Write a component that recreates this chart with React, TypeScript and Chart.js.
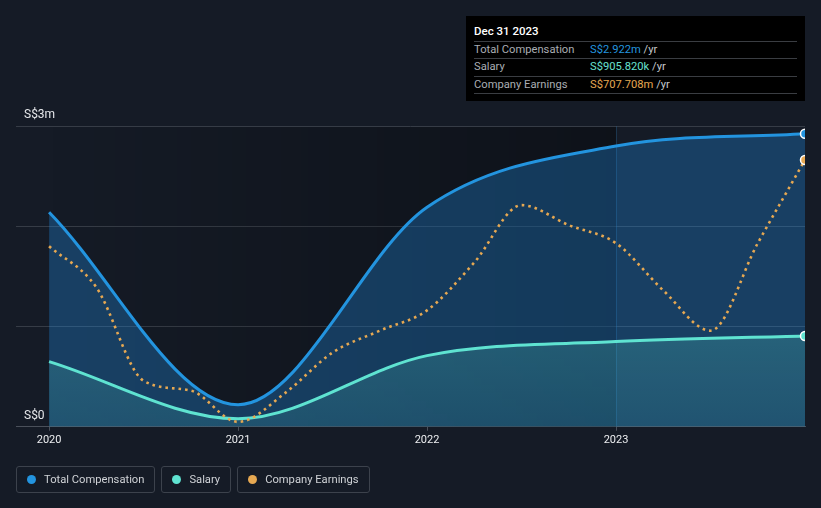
import React, { useEffect, useRef } from 'react';
import { Chart, registerables } from 'chart.js';
Chart.register(...registerables);

// ---- data ----
const yearTicks = [2020, 2021, 2022, 2023];
const yTickValues = [0, 3];
const yTickLabels = ['S$0', 'S$3m'];
const highlightStart = 2023;
const compX = [2020, 2021, 2022, 2023, 2024];
const totalComp = [2.14, 0.22, 2.19, 2.8, 2.922];
const salary = [0.65, 0.08, 0.71, 0.85, 0.906];
const earningsX = [
  2020, 2020.25, 2020.5, 2020.75, 2021, 2021.25, 2021.5, 2021.75, 2022,
  2022.25, 2022.5, 2022.75, 2023, 2023.25, 2023.5, 2023.75, 2024,
];
const earnings = [479, 370, 122, 96, 13, 90, 197, 255, 309, 436, 588, 535, 487, 362, 255, 487, 708];
const seriesNames = ['Total Compensation', 'Salary', 'Company Earnings'];
const seriesColors = ['#2394df', '#5fe3d1', '#e6a852'];
const tooltipTitle = 'Dec 31 2023';
const tooltipValues = ['S$2.922m', 'S$905.820k', 'S$707.708m'];

const BG = '#151b26';
const FONT = 'Roboto, sans-serif';

function lastOnly(n: number, r: number) {
  return Array.from({ length: n }, (_, i) => (i === n - 1 ? r : 0));
}

const decorPlugin = {
  id: 'decor',
  beforeDatasetsDraw(chart: any) {
    const { ctx, chartArea: ca, scales } = chart;
    const x0 = scales.x.getPixelForValue(2020);
    const x1 = scales.x.getPixelForValue(highlightStart);
    const g = ctx.createLinearGradient(x0, 0, x1, 0);
    g.addColorStop(0, 'rgba(0,0,0,0)');
    g.addColorStop(1, 'rgba(0,0,0,0.32)');
    ctx.save();
    ctx.fillStyle = g;
    ctx.fillRect(x0, ca.top + 1, x1 - x0, ca.bottom - ca.top - 1);
    ctx.strokeStyle = 'rgba(40,95,140,0.4)';
    ctx.lineWidth = 1;
    ctx.beginPath();
    ctx.moveTo(Math.round(x1) + 0.5, ca.top);
    ctx.lineTo(Math.round(x1) + 0.5, ca.bottom);
    ctx.stroke();
    ctx.restore();
  },
  afterDraw(chart: any) {
    const { ctx, chartArea: ca, scales } = chart;
    ctx.save();
    ctx.font = '12px ' + FONT;
    ctx.fillStyle = '#e6e8eb';
    ctx.textBaseline = 'bottom';
    ctx.textAlign = 'left';
    yTickValues.forEach((v, i) => {
      const y = scales.y.getPixelForValue(v);
      ctx.fillText(yTickLabels[i], ca.left + 8, y - 5);
    });
    ctx.restore();
  },
};

export default function App() {
  const ref = useRef<HTMLCanvasElement | null>(null);
  useEffect(() => {
    document.body.style.margin = '0';
    document.body.style.background = BG;
    const canvas = ref.current!;
    const n = compX.length;
    const chart = new Chart(canvas, {
      type: 'line',
      data: {
        datasets: [
          {
            label: seriesNames[0],
            data: compX.map((x, i) => ({ x, y: totalComp[i] })),
            borderColor: seriesColors[0],
            borderWidth: 3,
            fill: 'origin',
            backgroundColor: 'rgba(33,150,243,0.3)',
            cubicInterpolationMode: 'monotone',
            pointRadius: lastOnly(n, 4.5),
            pointBackgroundColor: seriesColors[0],
            pointBorderColor: '#ffffff',
            pointBorderWidth: 1.5,
            order: 3,
          },
          {
            label: seriesNames[1],
            data: compX.map((x, i) => ({ x, y: salary[i] })),
            borderColor: seriesColors[1],
            borderWidth: 3,
            fill: 'origin',
            backgroundColor: (c: any) => {
              const ca = c.chart.chartArea;
              if (!ca) return 'rgba(95,227,209,0.2)';
              const g = c.chart.ctx.createLinearGradient(0, ca.top + ca.height * 0.65, 0, ca.bottom);
              g.addColorStop(0, 'rgba(95,227,209,0.22)');
              g.addColorStop(1, 'rgba(95,227,209,0.12)');
              return g;
            },
            cubicInterpolationMode: 'monotone',
            pointRadius: lastOnly(n, 4.5),
            pointBackgroundColor: seriesColors[1],
            pointBorderColor: '#ffffff',
            pointBorderWidth: 1.5,
            order: 2,
          },
          {
            label: seriesNames[2],
            data: earningsX.map((x, i) => ({ x, y: earnings[i] })),
            yAxisID: 'y1',
            borderColor: seriesColors[2],
            borderWidth: 2.6,
            borderDash: [2.6, 4],
            fill: false,
            cubicInterpolationMode: 'monotone',
            pointRadius: lastOnly(earningsX.length, 4.5),
            pointBackgroundColor: seriesColors[2],
            pointBorderColor: '#ffffff',
            pointBorderWidth: 1.5,
            order: 1,
          },
        ],
      },
      options: {
        responsive: false,
        animation: false,
        layout: { padding: { left: 16, right: 16, top: 126, bottom: 58 } },
        plugins: { legend: { display: false }, tooltip: { enabled: false } },
        scales: {
          x: {
            type: 'linear',
            min: 2019.825,
            max: 2024,
            afterBuildTicks: (s: any) => {
              s.ticks = yearTicks.map((v) => ({ value: v }));
            },
            ticks: {
              color: '#eceef0',
              font: { size: 11, family: FONT },
              padding: 3,
              maxRotation: 0,
              callback: (v: any) => String(v),
            },
            grid: { drawOnChartArea: false, drawTicks: true, tickLength: 4, color: '#4a505a' },
            border: { display: true, color: '#4a505a', width: 1 },
          },
          y: {
            min: 0,
            max: 3,
            ticks: { display: false, stepSize: 1 },
            grid: { color: '#363c46', drawTicks: false },
            border: { display: false },
          },
          y1: { display: false, min: 0, max: 798 },
        },
      },
      plugins: [decorPlugin],
    } as any);
    return () => chart.destroy();
  }, []);

  const rowLabel: React.CSSProperties = { color: '#a9adb3', width: 116, display: 'inline-block' };
  return (
    <div
      style={{
        position: 'absolute',
        left: 0,
        top: 0,
        width: 821,
        height: 508,
        background: BG,
        fontFamily: FONT,
        overflow: 'hidden',
      }}
    >
      <canvas ref={ref} width={821} height={508} style={{ position: 'absolute', left: 0, top: 0 }} />
      <div
        style={{
          position: 'absolute',
          left: 466,
          top: 16,
          width: 339,
          height: 85,
          background: '#000',
          boxSizing: 'border-box',
          padding: '0 8px',
          fontSize: 11.2,
        }}
      >
        <div
          style={{
            color: '#fff',
            fontWeight: 500,
            fontSize: 11.5,
            height: 25,
            lineHeight: '30px',
            borderBottom: '1px solid #3a3d42',
          }}
        >
          {tooltipTitle}
        </div>
        {seriesNames.map((nm, i) => (
          <div
            key={nm}
            style={{ height: 16.4, lineHeight: '16px', borderBottom: '1px solid #3a3d42', whiteSpace: 'nowrap' }}
          >
            <span style={rowLabel}>{nm}</span>
            <span style={{ color: seriesColors[i] === '#5fe3d1' ? '#68e0d0' : seriesColors[i] }}>{tooltipValues[i]}</span>
            <span style={{ color: '#c6c9cd' }}> /yr</span>
          </div>
        ))}
      </div>
      <div style={{ position: 'absolute', left: 16, top: 466, display: 'flex', gap: 6 }}>
        {seriesNames.map((nm, i) => (
          <div
            key={nm}
            style={{
              height: 27,
              boxSizing: 'border-box',
              border: '1px solid #3c424c',
              borderRadius: 3,
              display: 'flex',
              alignItems: 'center',
              padding: '0 10px 0 10px',
              fontSize: 11.2,
              color: '#cfd2d6',
            }}
          >
            <span
              style={{
                width: 9,
                height: 9,
                borderRadius: '50%',
                background: seriesColors[i],
                display: 'inline-block',
                marginRight: 8,
              }}
            />
            {nm}
          </div>
        ))}
      </div>
    </div>
  );
}
